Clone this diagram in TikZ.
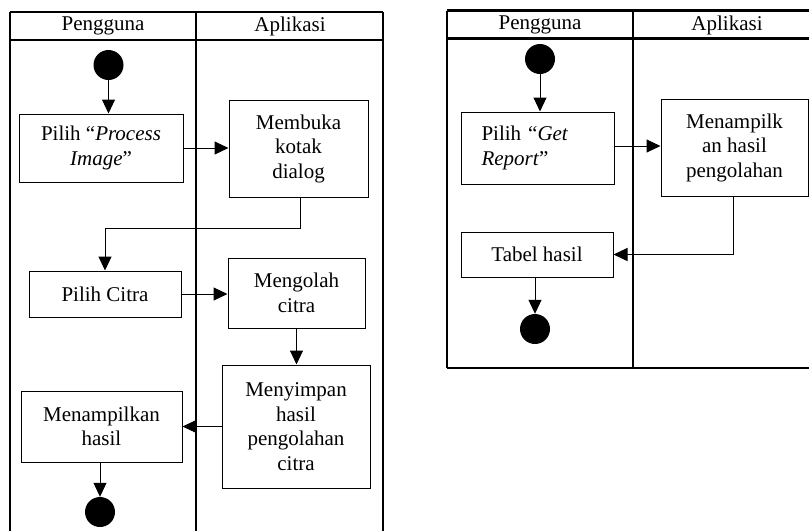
\documentclass[tikz,border=0pt]{standalone}
\usepackage{fontspec}
\setmainfont{Liberation Serif}
\usetikzlibrary{arrows.meta,calc}
\tikzset{
  lane/.style={line width=2.2pt},
  actbox/.style={draw,line width=1pt,rectangle,align=center,inner sep=0pt,
     font=\fontsize{21}{24.5}\selectfont},
  dot/.style={circle,fill=black,minimum size=30pt,inner sep=0pt},
  flow/.style={line width=1pt,-{Triangle[length=14pt,width=13pt]}},
  lanehead/.style={font=\fontsize{21}{24}\selectfont,inner sep=0pt}
}
\begin{document}
\begin{tikzpicture}[x=1pt,y=-1pt]
\useasboundingbox (0,0) rectangle (809,531);
% ---------- left diagram frame ----------
\draw[lane] (10,12) -- (383,12);
\draw[lane] (10,40) -- (383,40);
\draw[lane] (10,12) -- (10,531);
\draw[lane] (196,12) -- (196,531);
\draw[lane] (383,12) -- (383,531);
\node[lanehead] (h1) at (103,26) {Pengguna};
\node[lanehead] (h2) at (290,26) {Aplikasi};
% nodes
\node[dot] (s1) at (108.5,65) {};
\node[actbox,minimum width=164pt,minimum height=68pt] (p1) at (101,148) {Pilih “\textit{Process}\\\textit{Image}”};
\node[actbox,minimum width=139pt,minimum height=97pt] (m1) at (298.5,148.5) {Membuka\\kotak\\dialog};
\node[actbox,minimum width=152pt,minimum height=46pt] (c1) at (105,294) {Pilih Citra};
\node[actbox,minimum width=137pt,minimum height=70pt] (m2) at (296.5,293) {Mengolah\\citra};
\node[actbox,minimum width=148pt,minimum height=123pt] (m3) at (296,426.5) {Menyimpan\\hasil\\pengolahan\\citra};
\node[actbox,minimum width=161pt,minimum height=71pt] (c2) at (101.5,426.5) {Menampilkan\\hasil};
\node[dot] (e1) at (100,512) {};
\coordinate (k1) at (300,228);
% connectors
\draw[flow] (s1) -- (s1 |- p1.north);
\draw[flow] (p1.east) -- (m1.west |- p1.east);
\draw[flow] (k1 |- m1.south) -- (k1) -| (c1.north);
\draw[flow] (c1.east) -- (m2.west |- c1.east);
\draw[flow] (m2.south) -- (m2.south |- m3.north);
\draw[flow] (m3.west) -- (c2.east);
\draw[flow] (e1.north |- c2.south) -- (e1.north);
% ---------- right diagram frame ----------
\draw[lane] (447,10.5) -- (809,10.5);
\draw[lane] (447,38.5) -- (809,38.5);
\draw[lane] (447,368) -- (809,368);
\draw[lane] (447,10.5) -- (447,368);
\draw[lane] (633,10.5) -- (633,368);
\node[lanehead] (h3) at (540,25) {Pengguna};
\node[lanehead] (h4) at (727,25) {Aplikasi};
% nodes
\node[dot] (s2) at (540,59) {};
\node[actbox,align=left,text width=113pt,inner xsep=20pt,minimum height=72pt] (p2) at (538,148) {Pilih “\textit{Get}\\\textit{Report}”};
\node[actbox,minimum width=147pt,minimum height=97pt] (m4) at (734.5,147.5) {Menampilk\\an hasil\\pengolahan};
\node[actbox,minimum width=152pt,minimum height=45pt] (t1) at (537,254.5) {Tabel hasil};
\node[dot] (e2) at (535,329) {};
\coordinate (k2) at (733,254.5);
% connectors
\draw[flow] (s2) -- (s2 |- p2.north);
\draw[flow] (p2.east |- 0,146) -- (m4.west |- 0,146);
\draw[flow] (k2 |- m4.south) -- (k2) -- (t1.east);
\draw[flow] (e2.north |- t1.south) -- (e2.north);
\end{tikzpicture}
\end{document}
